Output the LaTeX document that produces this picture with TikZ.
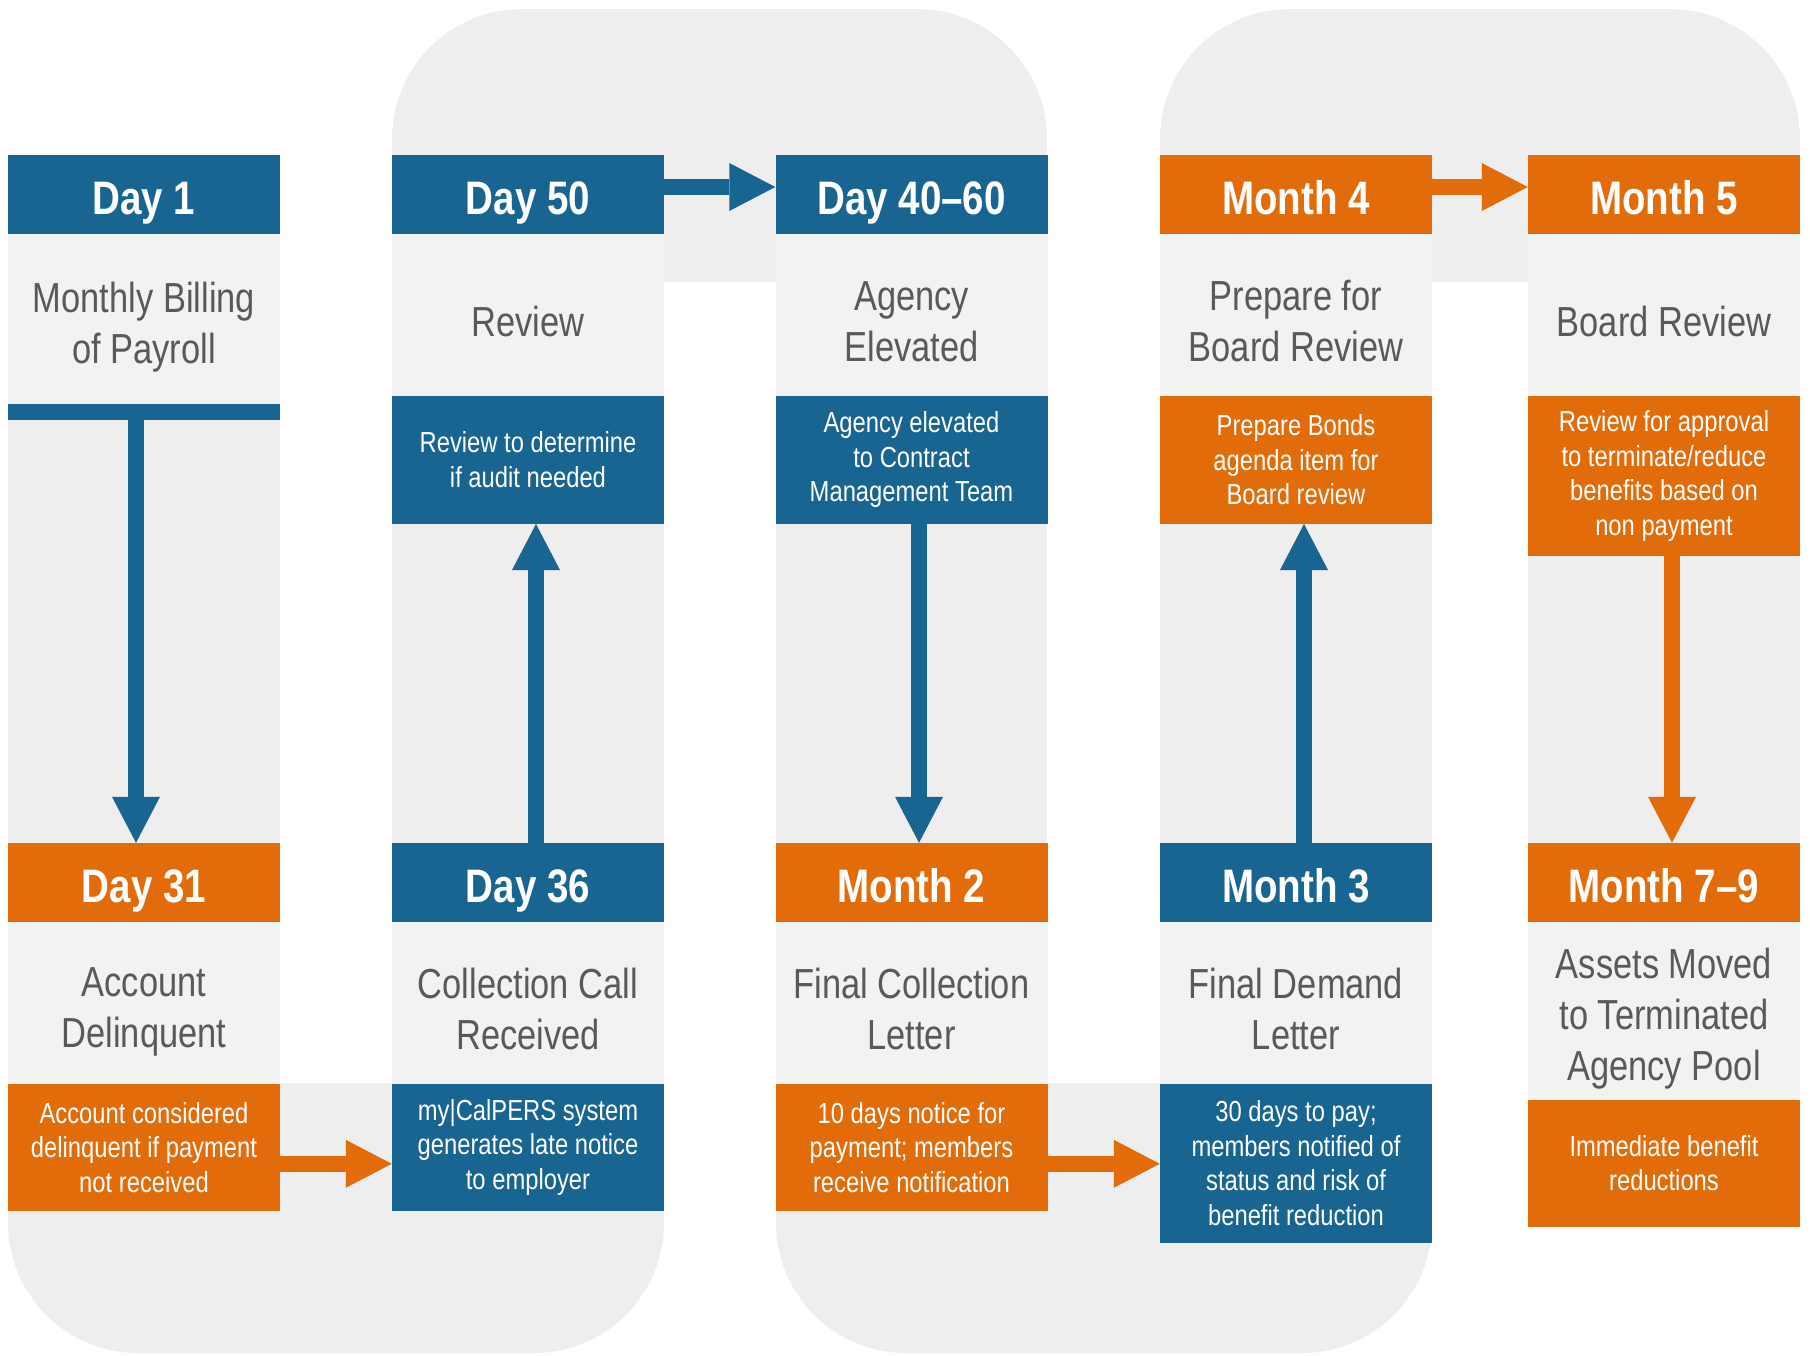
\documentclass[tikz,border=0pt]{standalone}
\usepackage{fontspec}
\setmainfont{Liberation Sans}[FakeStretch=0.82]
\usetikzlibrary{positioning,arrows.meta}

\definecolor{calblue}{HTML}{186592}
\definecolor{calorange}{HTML}{E36C0A}
\definecolor{stripgray}{HTML}{EEEEEE}
\definecolor{titlegray}{HTML}{F2F2F2}
\definecolor{textgray}{HTML}{595959}

% strut that sets the first line of a title a little lower
\newcommand{\titlestrut}{\rule{0pt}{46pt}}

\begin{document}
\begin{tikzpicture}[x=1pt, y=-1pt,
    box/.style={rectangle, inner sep=0pt, minimum width=272pt, align=center},
    headbox/.style={box, minimum height=79pt, text=white, font=\bfseries\fontsize{47}{56}\selectfont, text height=39pt, text depth=0pt},
    bluehead/.style={headbox, fill=calblue},
    orangehead/.style={headbox, fill=calorange},
    titlebox/.style={box, fill=titlegray, minimum height=161pt, text=textgray, font=\fontsize{42}{51}\selectfont,
        execute at end node={\rule[-3pt]{0pt}{3pt}}},
    notebox/.style={box, minimum height=128pt, text=white, font=\fontsize{29}{34.5}\selectfont},
    bluenote/.style={notebox, fill=calblue},
    orangenote/.style={notebox, fill=calorange},
    strip/.style={fill=stripgray},
    bluearrow/.style={line width=16pt, color=calblue, -{Triangle[length=46pt, width=48pt, line width=0pt]}},
    orangearrow/.style={line width=16pt, color=calorange, -{Triangle[length=46pt, width=48pt, line width=0pt]}}
]
\useasboundingbox (0,0) rectangle (1810,1355);

% Background band: rounded turns
\foreach \xa/\xb/\ya/\yb in {8/664/1083/1353, 392/1047/9/282, 776/1432/1083/1353, 1160/1800/9/282}{
    \fill[strip, rounded corners=130pt] (\xa,\ya) rectangle (\xb,\yb);
}

% Background band: straight columns
\foreach \xa/\xb/\ya/\yb in {8/280/155/1230, 392/664/140/1230, 776/1047/140/1230, 1160/1432/140/1230, 1528/1800/140/1226}{
    \fill[strip] (\xa,\ya) rectangle (\xb,\yb);
}

% Top row
\node[bluehead] (d1) at (144,194.5) {Day 1};
\node[titlebox, minimum height=169pt, below=0pt of d1] (billing) {\titlestrut Monthly Billing\\of Payroll};
\node[box, fill=calblue, minimum height=16pt, below=0pt of billing] (bar) {};

\node[bluehead] (d50) at (528,194.5) {Day 50};
\node[titlebox, below=0pt of d50] (review) {\titlestrut Review};
\node[bluenote, below=0pt of review] (reviewnote) {Review to determine\\if audit needed};

\node[bluehead] (d4060) at (911.5,194.5) {Day 40--60};
\node[titlebox, below=0pt of d4060] (elevated) {\titlestrut Agency\\Elevated};
\node[bluenote, below=0pt of elevated] (elevatednote) {Agency elevated\\to Contract\\Management Team};

\node[orangehead] (m4) at (1296,194.5) {Month 4};
\node[titlebox, below=0pt of m4] (prepare) {\titlestrut Prepare for\\Board Review};
\node[orangenote, below=0pt of prepare] (preparenote) {Prepare Bonds\\agenda item for\\Board review};

\node[orangehead] (m5) at (1664,194.5) {Month 5};
\node[titlebox, below=0pt of m5] (board) {\titlestrut Board Review};
\node[orangenote, minimum height=160pt, below=0pt of board] (boardnote) {Review for approval\\to terminate/reduce\\benefits based on\\non payment};

% Bottom row
\node[orangehead] (d31) at (144,882.5) {Day 31};
\node[titlebox, below=0pt of d31] (delinq) {\titlestrut Account\\Delinquent};
\node[orangenote, minimum height=127pt, below=0pt of delinq] (delinqnote) {Account considered\\delinquent if payment\\not received};

\node[bluehead] (d36) at (528,882.5) {Day 36};
\node[titlebox, below=0pt of d36] (call) {\titlestrut Collection Call\\Received};
\node[bluenote, minimum height=127pt, below=0pt of call] (callnote) {my|CalPERS system\\generates late notice\\to employer};

\node[orangehead] (m2) at (911.5,882.5) {Month 2};
\node[titlebox, below=0pt of m2] (final) {\titlestrut Final Collection\\Letter};
\node[orangenote, minimum height=127pt, below=0pt of final] (finalnote) {10 days notice for\\payment; members\\receive notification};

\node[bluehead] (m3) at (1296,882.5) {Month 3};
\node[titlebox, below=0pt of m3] (demand) {\titlestrut Final Demand\\Letter};
\node[bluenote, minimum height=159pt, below=0pt of demand] (demandnote) {30 days to pay;\\members notified of\\status and risk of\\benefit reduction};

\node[orangehead] (m79) at (1664,882.5) {Month 7--9};
\node[titlebox, minimum height=177pt, below=0pt of m79] (assets) {\titlestrut Assets Moved\\to Terminated\\Agency Pool};
\node[orangenote, minimum height=127pt, below=0pt of assets] (assetsnote) {Immediate benefit\\reductions};

% Vertical arrows
\draw[bluearrow] ([xshift=-8pt]bar.south) -- ([xshift=-8pt]d31.north);
\draw[bluearrow] ([xshift=8pt]d36.north) -- ([xshift=8pt]reviewnote.south);
\draw[bluearrow] ([xshift=7.5pt]elevatednote.south) -- ([xshift=7.5pt]m2.north);
\draw[bluearrow] ([xshift=8pt]m3.north) -- ([xshift=8pt]preparenote.south);
\draw[orangearrow] ([xshift=8pt]boardnote.south) -- ([xshift=8pt]m79.north);

% Horizontal arrows
\draw[bluearrow] ([yshift=7.5pt]d50.east) -- ([yshift=7.5pt]d4060.west);
\draw[orangearrow] ([yshift=7.5pt]m4.east) -- ([yshift=7.5pt]m5.west);
\draw[orangearrow] ([yshift=-16.5pt]delinqnote.east) -- ([yshift=-16.5pt]callnote.west);
\coordinate (demandin) at ([yshift=-16.5pt]finalnote.east -| demandnote.west);
\draw[orangearrow] ([yshift=-16.5pt]finalnote.east) -- (demandin);

\end{tikzpicture}
\end{document}
